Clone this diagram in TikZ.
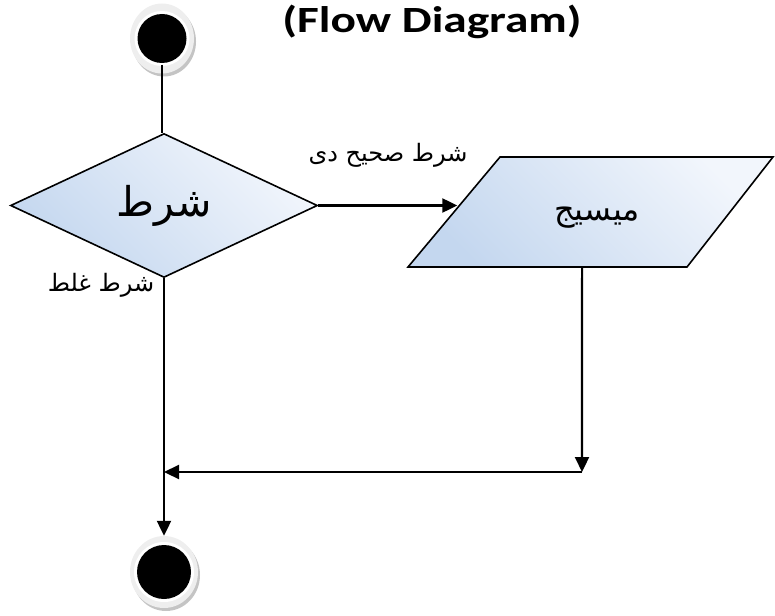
\documentclass[tikz,border=0pt]{standalone}
\usepackage{fontspec}
\usetikzlibrary{shapes.geometric,arrows.meta,shadows,calc}
\TeXXeTstate=1
\newfontfamily\arabicfont[Script=Arabic]{DejaVu Sans}
\newfontfamily\titlefont{Carlito}
\definecolor{shadeA}{HTML}{F2F6FC}
\definecolor{shadeB}{HTML}{C4D7EF}
\definecolor{ringgray}{HTML}{EEEEEE}
\definecolor{shadowgray}{HTML}{C4C4C4}
\begin{document}
\begin{tikzpicture}[x=1pt,y=-1pt,
  conn/.style={line width=2.2pt, draw=black},
  arr/.style={conn, -{Triangle[length=15pt,width=14pt]}},
  termdot/.style={ellipse, draw=none, fill=ringgray, inner sep=0pt,
    drop shadow={shadow xshift=2pt, shadow yshift=-3pt, fill=shadowgray, opacity=1},
    path picture={\fill[white] (path picture bounding box.center) circle (#1+3pt);
                  \fill[black] (path picture bounding box.center) circle (#1);}},
  decisionbox/.style={diamond, draw=black, line width=1.6pt, minimum width=307pt,
    minimum height=144pt, inner sep=0pt, top color=shadeA, bottom color=shadeB,
    shading angle=-45, font=\arabicfont\fontsize{41}{48}\selectfont},
  iobox/.style={draw=black, line width=1.6pt, top color=shadeA, bottom color=shadeB, shading angle=-45},
  iotext/.style={font=\arabicfont\fontsize{32}{38}\selectfont, inner sep=0pt},
  lbl/.style={font=\arabicfont\fontsize{24}{28}\selectfont, inner sep=0pt},
  titletext/.style={font=\titlefont\bfseries\fontsize{37}{44}\selectfont, inner sep=0pt}
]
\useasboundingbox (0,0) rectangle (775,615);

% title
\node[titletext, xscale=1.28] (title) at (432,22) {(Flow Diagram)};

% start and end
\node[termdot=24.5pt, minimum width=64pt, minimum height=70pt] (start) at (162,38.5) {};
\node[termdot=27pt, minimum width=68pt, minimum height=72pt] (stop) at (164,572) {};

% decision
\node[decisionbox] (dec) at (164,205.5) {\beginR شرط\endR};

% input/output parallelogram
\coordinate (p1) at (408,267);
\coordinate (p2) at (687,267);
\coordinate (p3) at (773,157);
\coordinate (p4) at (500,157);
\path[iobox] (p1) -- (p2) -- (p3) -- (p4) -- cycle;
\node[iotext] (msg) at (597,218) {\beginR ميسيج\endR};

% labels
\node[lbl] (tlabel) at (388,155) {\beginR شرط صحيح دى\endR};
\node[lbl] (flabel) at (101,285) {\beginR شرط غلط\endR};

% connectors
\coordinate (inP) at ($(p1)!0.536!(p4)$);
\coordinate (outP) at ($(p1)!0.624!(p2)$);
\coordinate (j) at (582,472);
\draw[conn, shorten <=-9pt] (start.south) -- (start.south |- dec.north);
\draw[arr] (dec.east) -- (dec.east -| inP);
\draw[arr] (outP) -- (j);
\draw[arr] (dec.south) -- (dec.south |- stop.north);
\coordinate (k) at (dec.south |- j);
\draw[arr] (j) -- (k);
\end{tikzpicture}
\end{document}
